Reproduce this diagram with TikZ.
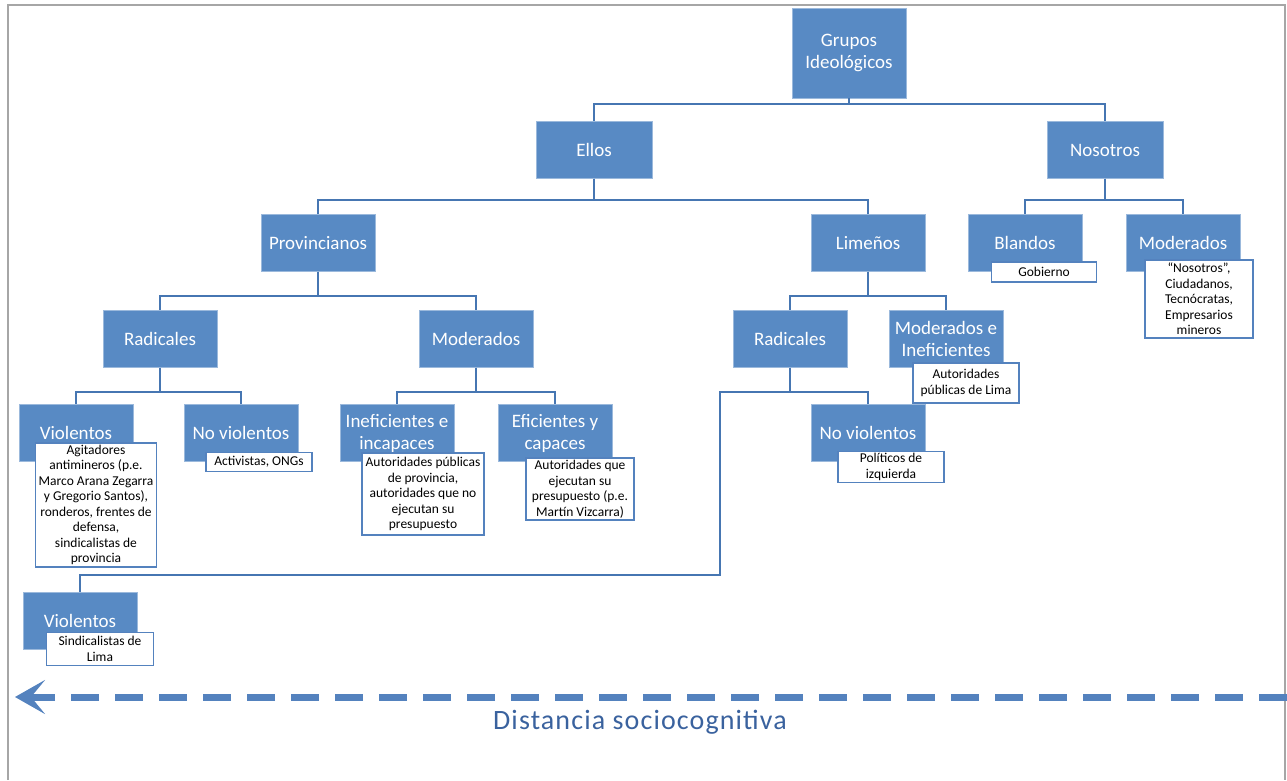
\documentclass[tikz,border=0pt]{standalone}
\usepackage{fontspec}
\setmainfont{Carlito}
\usetikzlibrary{arrows.meta, positioning}

\definecolor{azul}{RGB}{88,138,196}
\definecolor{linea}{RGB}{70,118,178}
\definecolor{borde}{RGB}{84,130,190}
\definecolor{texto}{RGB}{58,98,158}

\begin{document}
\begin{tikzpicture}[
        x=1pt, y=-1pt,
        grupo/.style={rectangle, fill=azul, draw=azul!60!white, minimum width=114pt, minimum height=57pt,
            text=white, align=center, inner sep=1pt, font=\fontsize{19}{22}\selectfont},
        nota/.style={rectangle, fill=white, draw=borde, line width=1.5pt, align=center, inner sep=1pt,
            font=\fontsize{13.5}{15.5}\selectfont},
        rama/.style={draw=linea, line width=2pt},
        flecha/.style={draw=borde, line width=7pt, dash pattern=on 28pt off 16pt,
            -{Stealth[length=30pt, width=34pt, inset=14pt]}},
        marco/.style={draw=gray!70, line width=2pt}
    ]
        \useasboundingbox (0,0) rectangle (1287,780);
        \draw[marco] (8,780) -- (8,5) -- (1285,5) -- (1285,780);

        % Cajas principales
        \node[grupo, minimum height=90pt] (grupos) at (849,53) {Grupos\\Ideológicos};
        \node[grupo, minimum width=116pt] (ellos) at (594,150) {Ellos};
        \node[grupo, minimum width=116pt] (nosotros) at (1105,150) {Nosotros};
        \node[grupo] (provincianos) at (318,243) {Provincianos};
        \node[grupo] (limenos) at (868,243) {Limeños};
        \node[grupo] (blandos) at (1025,243) {Blandos};
        \node[grupo] (nmoderados) at (1183,243) {Moderados};
        \node[grupo] (pradicales) at (160,339) {Radicales};
        \node[grupo] (pmoderados) at (476,339) {Moderados};
        \node[grupo] (lradicales) at (790,339) {Radicales};
        \node[grupo] (lmoderados) at (946,339) {Moderados e\\Ineficientes};
        \node[grupo] (pviol) at (76,433) {Violentos};
        \node[grupo] (pnoviol) at (241,433) {No violentos};
        \node[grupo] (pinef) at (397,433) {Ineficientes e\\incapaces};
        \node[grupo] (pefic) at (555,433) {Eficientes y\\capaces};
        \node[grupo] (lnoviol) at (868,433) {No violentos};
        \node[grupo] (lviol) at (80,621) {Violentos};

        % Notas
        \node[nota, minimum width=105pt, minimum height=20pt] (blandosnota) at (1044,272) {Gobierno};
        \node[nota, minimum width=108pt, minimum height=78pt] (nmoderadosnota) at (1199,299)
            {``Nosotros'',\\Ciudadanos,\\Tecnócratas,\\Empresarios\\mineros};
        \node[nota, minimum width=106pt, minimum height=40pt] (lmoderadosnota) at (966,383)
            {Autoridades\\públicas de Lima};
        \node[nota, minimum width=121pt, minimum height=124pt] (pviolnota) at (96,505)
            {Agitadores\\antimineros (p.e.\\Marco Arana Zegarra\\y Gregorio Santos),\\ronderos, frentes de\\defensa,\\sindicalistas de\\provincia};
        \node[nota, minimum width=106pt, minimum height=19pt] (pnoviolnota) at (259,462) {Activistas, ONGs};
        \node[nota, minimum width=122pt, minimum height=82pt] (pinefnota) at (423,494)
            {Autoridades públicas\\de provincia,\\autoridades que no\\ejecutan su\\presupuesto};
        \node[nota, minimum width=108pt, minimum height=62pt] (peficnota) at (580,489)
            {Autoridades que\\ejecutan su\\presupuesto (p.e.\\Martín Vizcarra)};
        \node[nota, minimum width=106pt, minimum height=31pt] (lnoviolnota) at (891,467)
            {Políticos de\\izquierda};
        \node[nota, minimum width=107pt, minimum height=33pt] (lviolnota) at (100,649)
            {Sindicalistas de\\Lima};

        % Ramas
        \draw[rama] (grupos.south) -- ++(0,6) -| (ellos.north);
        \draw[rama] (grupos.south) -- ++(0,6) -| (nosotros.north);
        \draw[rama] (ellos.south) -- ++(0,21) -| (provincianos.north);
        \draw[rama] (ellos.south) -- ++(0,21) -| (limenos.north);
        \draw[rama] (nosotros.south) -- ++(0,21) -| (blandos.north);
        \draw[rama] (nosotros.south) -- ++(0,21) -| (nmoderados.north);
        \draw[rama] (provincianos.south) -- ++(0,24) -| (pradicales.north);
        \draw[rama] (provincianos.south) -- ++(0,24) -| (pmoderados.north);
        \draw[rama] (limenos.south) -- ++(0,24) -| (lradicales.north);
        \draw[rama] (limenos.south) -- ++(0,24) -| (lmoderados.north);
        \draw[rama] (pradicales.south) -- ++(0,24) -| (pviol.north);
        \draw[rama] (pradicales.south) -- ++(0,24) -| (pnoviol.north);
        \draw[rama] (pmoderados.south) -- ++(0,24) -| (pinef.north);
        \draw[rama] (pmoderados.south) -- ++(0,24) -| (pefic.north);
        \draw[rama] (lradicales.south) -- ++(0,24) -| (lnoviol.north);
        \draw[rama] (lradicales.south) -- ++(0,24) -| ++(-70,183) -| (lviol.north);

        % Distancia
        \coordinate (dder) at (1287,697);
        \coordinate (dizq) at (15,697);
        \draw[flecha] (dder) -- (dizq);
        \node[text=texto, font=\fontsize{28}{30}\selectfont\addfontfeature{LetterSpace=4}] (distancia) at (640,722)
            {Distancia sociocognitiva};
\end{tikzpicture}
\end{document}
